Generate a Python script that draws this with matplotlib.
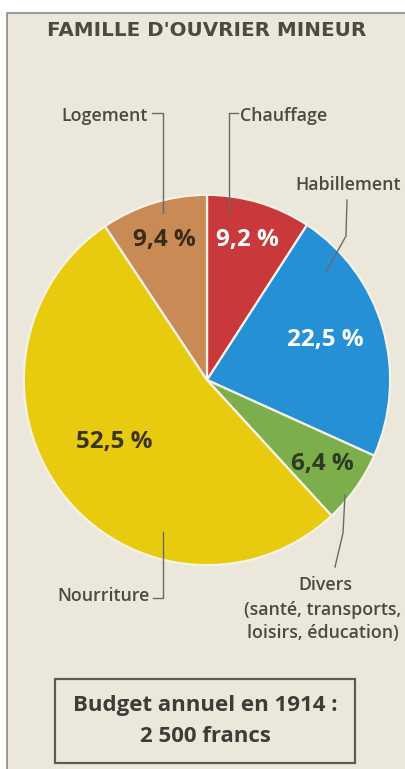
import matplotlib.pyplot as plt
from matplotlib.patches import Rectangle

# budget of a miner's family, 1914 (share of annual budget, %)
categories = ['Chauffage', 'Habillement', 'Divers', 'Nourriture', 'Logement']
shares = [9.2, 22.5, 6.4, 52.5, 9.4]
colors = ['#c9383b', '#2690d6', '#7cae4c', '#e8cb0e', '#c98a55']
pct_colors = ['white', 'white', '#2e3a22', '#3a3418', '#3a2a1a']

title = "FAMILLE D'OUVRIER MINEUR"
divers_detail = ["(santé, transports,", "loisirs, éducation)"]
box_lines = ["Budget annuel en 1914 :", "2 500 francs"]

W, H = 406, 769
BG = '#ebe7db'
TXT = '#4a4a44'

fig = plt.figure(figsize=(W / 100, H / 100), dpi=100)
fig.patch.set_facecolor('white')

# full-figure axes in pixel coordinates for texts and leader lines
ax = fig.add_axes([0, 0, 1, 1])
ax.set_xlim(0, W)
ax.set_ylim(H, 0)
ax.axis('off')
ax.patch.set_alpha(0)
ax.set_zorder(2)

# beige panel with grey border on top and left only
fig.add_artist(Rectangle((7 / W, 0), 1, (H - 13) / H, transform=fig.transFigure,
                         facecolor=BG, edgecolor='none', zorder=0))
ax.plot([7, 7, W], [H, 13, 13], color='#8a8a8a', lw=1.2)

# pie axes placed over the circle
cx, cy, rx, ry = 207, 380, 185, 187
pax = fig.add_axes([(cx - rx) / W, (H - cy - ry) / H, 2 * rx / W, 2 * ry / H])
pax.pie(shares, colors=colors, startangle=90, counterclock=False, radius=1,
        wedgeprops=dict(edgecolor='#f6f2e6', linewidth=1.6))
pax.set_xlim(-1.01, 1.01)
pax.set_ylim(-1.01, 1.01)
pax.set_aspect('auto')
pax.axis('off')
pax.set_zorder(1)

ax.text(207, 31, title, ha='center', va='center', fontsize=14.3,
        fontweight='bold', color=TXT, family='DejaVu Sans')

# percentage labels inside wedges
pct_pos = [(247, 240), (325, 340), (322, 464), (114, 442), (164, 240)]
for v, (x, y), c in zip(shares, pct_pos, pct_colors):
    ax.text(x, y, f"{v:.1f} %".replace('.', ','), ha='center', va='center',
            fontsize=17.5, fontweight='bold', color=c, family='Open Sans')

lc = '#6a6a66'
lab = dict(fontsize=12.8, color=TXT, family='Open Sans', fontweight='semibold')

# Logement
ax.text(148, 116, categories[4], ha='right', va='center', **lab)
ax.plot([152, 163, 163], [113, 113, 213], color=lc, lw=1)
# Chauffage
ax.text(240, 116, categories[0], ha='left', va='center', **lab)
ax.plot([238, 229, 229], [113, 113, 213], color=lc, lw=1)
# Habillement
ax.text(348, 185, categories[1], ha='center', va='center', **lab)
ax.plot([347, 346, 326], [200, 236, 272], color=lc, lw=1)
# Nourriture
ax.text(150, 596, categories[3], ha='right', va='center', **lab)
ax.plot([153, 163, 163], [598, 598, 532], color=lc, lw=1)
# Divers
ax.text(325, 585, categories[2], ha='center', va='center', **lab)
for i, line in enumerate(divers_detail):
    ax.text(323, 610 + 23 * i, line, ha='center', va='center', **lab)
ax.plot([345, 343, 335], [495, 533, 567], color=lc, lw=1)

# budget box
ax.add_patch(Rectangle((55, 679), 300, 84, facecolor='none', edgecolor='#5a5a56', lw=1.6))
for i, line in enumerate(box_lines):
    ax.text(205, 706 + 30 * i, line, ha='center', va='center', fontsize=16,
            fontweight='bold', color='#3c3c38', family='Open Sans')

fig.savefig('out.png', dpi=100, facecolor=fig.get_facecolor())
